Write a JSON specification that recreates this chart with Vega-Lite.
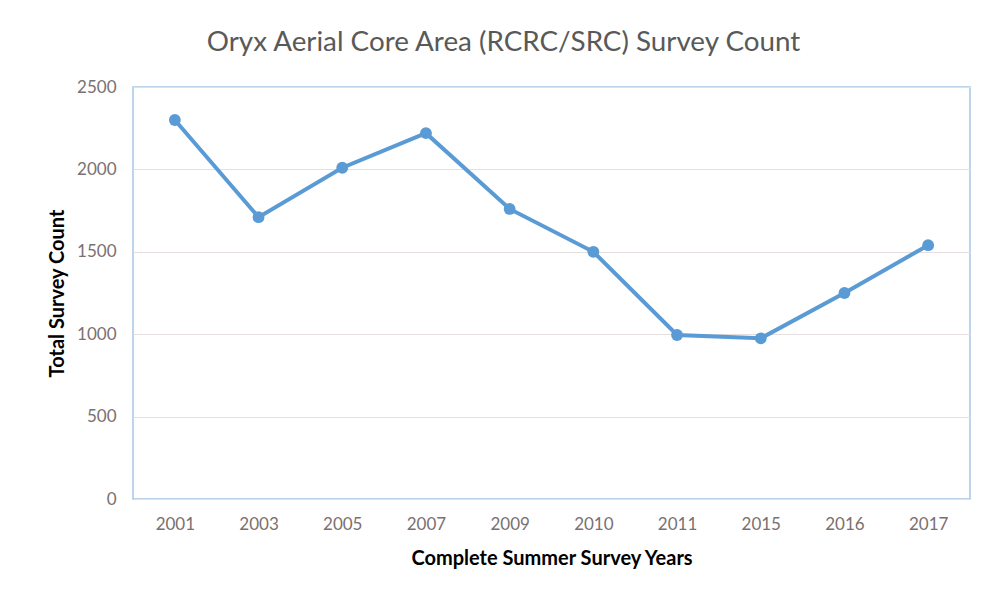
{
  "$schema": "https://vega.github.io/schema/vega-lite/v6.json",
  "autosize": {"type": "none"},
  "padding": {"left": 133, "top": 87, "right": 22, "bottom": 91},
  "width": 837,
  "height": 412,
  "background": "white",
  "title": {
    "text": "Oryx Aerial Core Area (RCRC/SRC) Survey Count",
    "font": "Lato",
    "fontSize": 27.8,
    "fontWeight": "normal",
    "color": "#595959",
    "anchor": "middle",
    "dx": -48,
    "offset": 21
  },
  "data": {
    "values": [
      {"year": "2001", "count": 2300},
      {"year": "2003", "count": 1710},
      {"year": "2005", "count": 2010},
      {"year": "2007", "count": 2220},
      {"year": "2009", "count": 1760},
      {"year": "2010", "count": 1500},
      {"year": "2011", "count": 995},
      {"year": "2015", "count": 975},
      {"year": "2016", "count": 1250},
      {"year": "2017", "count": 1540}
    ]
  },
  "mark": {"type": "line", "color": "#5b9bd5", "strokeWidth": 4, "point": {"filled": true, "size": 140, "color": "#5b9bd5", "opacity": 1}},
  "encoding": {
    "x": {
      "field": "year", "type": "ordinal", "sort": null,
      "scale": {"type": "point", "padding": 0.5},
      "axis": {
        "title": "Complete Summer Survey Years",
        "titleFont": "Lato", "titleFontSize": 20, "titleFontWeight": "bold", "titleColor": "#000000",
        "titlePadding": 16,
        "labelFont": "Lato", "labelFontSize": 17, "labelColor": "#7a7070", "labelAngle": 0,
        "labelPadding": 17,
        "ticks": false, "domain": false, "grid": false
      }
    },
    "y": {
      "field": "count", "type": "quantitative",
      "scale": {"domain": [0, 2500], "nice": false},
      "axis": {
        "title": "Total Survey Count",
        "titleFont": "Lato", "titleFontSize": 20, "titleFontWeight": "bold", "titleColor": "#000000",
        "titlePadding": 9,
        "labelFont": "Lato", "labelFontSize": 17, "labelColor": "#7a7070",
        "labelPadding": 17,
        "format": "d",
        "values": [0, 500, 1000, 1500, 2000, 2500],
        "ticks": false, "domain": false,
        "grid": true, "gridColor": "#e6dede", "gridWidth": 1.2
      }
    }
  },
  "config": {
    "view": {"stroke": "#a9c6e3", "strokeWidth": 1.5}
  }
}
